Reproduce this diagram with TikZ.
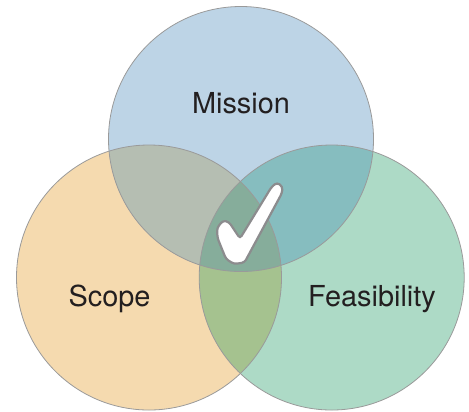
\documentclass[tikz,border=0pt]{standalone}
\usepackage{fontspec}
\setmainfont{TeX Gyre Heros}
\usepackage{tikz}
\definecolor{missionblue}{HTML}{BDD4E6}
\definecolor{scopeorange}{HTML}{F5DAAF}
\definecolor{feasgreen}{HTML}{ADDAC6}
\definecolor{msgray}{HTML}{B5BEB2}
\definecolor{mfteal}{HTML}{86BDBF}
\definecolor{sfolive}{HTML}{A5C28F}
\definecolor{allgreen}{HTML}{86AD9B}
\definecolor{rimgray}{HTML}{9A9A9A}
\definecolor{tickgray}{HTML}{8C8C8E}
\definecolor{labelink}{HTML}{231F20}

\begin{document}
\begin{tikzpicture}[x=1bp,y=-1bp,
  rim/.style={draw=rimgray,line width=0.8bp},
  setlabel/.style={anchor=base,text=labelink,font=\fontsize{29}{34}\selectfont}]
\useasboundingbox (0,0) rectangle (469,411);
\coordinate (M) at (241,139);
\coordinate (S) at (149,277.5);
\coordinate (F) at (331.7,277.5);
\fill[scopeorange] (S) circle (132.5bp);
\fill[feasgreen] (F) circle (132.5bp);
\fill[missionblue] (M) circle (132.5bp);
\begin{scope}
\clip (S) circle (132.5bp);
\fill[sfolive] (F) circle (132.5bp);
\end{scope}
\begin{scope}
\clip (M) circle (132.5bp);
\fill[msgray] (S) circle (132.5bp);
\fill[mfteal] (F) circle (132.5bp);
\clip (S) circle (132.5bp);
\fill[allgreen] (F) circle (132.5bp);
\end{scope}
\draw[rim] (M) circle (132.5bp);
\draw[rim] (S) circle (132.5bp);
\draw[rim] (F) circle (132.5bp);
\node[setlabel] at (241,113) (Mission) {Mission};
\node[setlabel] at (109.5,306) (Scope) {Scope};
\node[setlabel] at (372,306) (Feasibility) {Feasibility};
\draw[fill=white,draw=tickgray,line width=2.2bp,rounded corners=3bp]
  (271.5,187) -- (277,182.5) -- (282.5,186.5) -- (282,193) -- (244.5,262.5)
  -- (234,264) -- (226,259) -- (217.5,238) -- (217,228) -- (223,220.5)
  -- (229,222) -- (240,238.5) -- cycle;
\end{tikzpicture}
\end{document}
